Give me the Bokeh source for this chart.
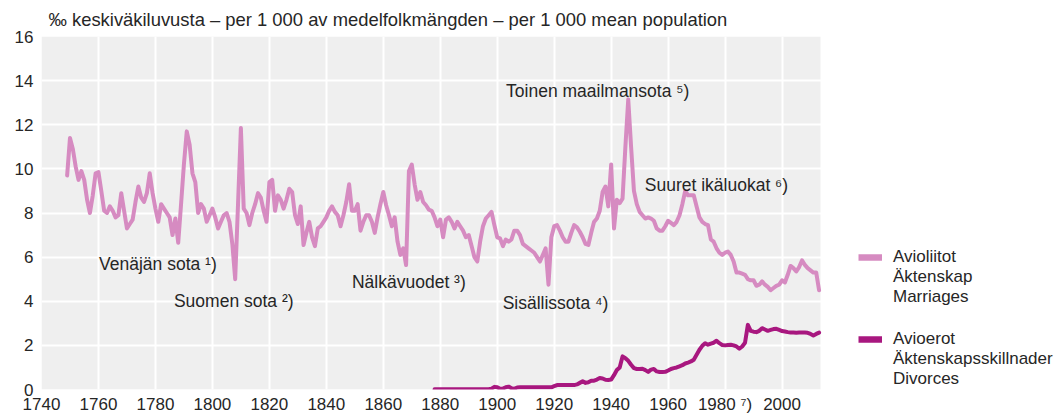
from bokeh.plotting import figure
from bokeh.models import Range1d, Label, Legend, LegendItem, Title, BoxAnnotation
from bokeh.embed import file_html
from bokeh.resources import INLINE

FONT = "Liberation Sans"
TEXT_COLOR = "#262626"
PINK = "#d68bc1"
PURPLE = "#a8177f"
PANEL_GRAY = "#efefef"

# Marriages per 1 000 mean population, one value per year from 1749
marriage_start = 1749
marriages = [
    9.7,
    11.4, 10.9, 10.1, 9.5, 9.9, 9.5, 8.6, 8.0, 8.8, 9.8,      # 1750s
    9.85, 9.0, 8.1, 8.0, 8.3, 8.1, 7.8, 7.9, 8.9, 8.1,        # 1760s
    7.3, 7.5, 7.7, 8.5, 9.2, 8.7, 8.5, 8.9, 9.8, 8.9,         # 1770s
    8.2, 7.6, 8.4, 8.2, 8.0, 7.8, 7.0, 7.75, 6.65, 8.4,       # 1780s
    10.2, 11.7, 11.1, 9.8, 9.4, 8.0, 8.4, 8.2, 7.6, 7.9,      # 1790s
    8.2, 7.8, 7.3, 7.6, 7.9, 8.0, 7.6, 6.6, 5.0, 8.4,         # 1800s
    11.85, 8.2, 8.0, 7.45, 8.0, 8.4, 8.9, 8.7, 8.1, 7.6,      # 1810s
    9.4, 9.5, 8.1, 8.8, 8.6, 8.2, 8.6, 9.1, 8.95, 7.9,        # 1820s
    7.5, 8.3, 6.55, 7.1, 7.6, 6.9, 6.5, 7.3, 7.4, 7.6,        # 1830s
    7.8, 8.1, 8.3, 8.05, 7.9, 7.4, 7.9, 8.5, 9.3, 8.1,        # 1840s
    8.1, 8.4, 7.2, 7.6, 7.9, 7.9, 7.6, 7.1, 7.8, 8.4,         # 1850s
    8.95, 8.35, 7.9, 7.4, 7.8, 6.7, 6.1, 6.4, 5.64, 9.9,      # 1860s
    10.2, 9.3, 8.6, 8.95, 8.5, 8.35, 8.15, 8.1, 7.8, 7.4,     # 1870s
    7.7, 6.9, 7.7, 7.8, 7.6, 7.3, 7.6, 7.4, 7.2, 6.9,         # 1880s
    7.0, 6.5, 6.0, 5.8, 6.7, 7.4, 7.75, 7.9, 8.05, 7.45,      # 1890s
    6.9, 6.85, 6.5, 6.8, 6.7, 6.8, 7.2, 7.2, 7.0, 6.6,        # 1900s
    6.5, 6.4, 6.3, 6.2, 6.0, 5.8, 6.1, 6.4, 4.75, 6.9,        # 1910s
    7.4, 7.45, 7.2, 6.9, 6.7, 6.7, 7.1, 7.45, 7.35, 7.15,     # 1920s
    6.9, 6.6, 6.55, 7.1, 7.6, 7.75, 8.1, 8.95, 9.2, 8.3,      # 1930s
    10.2, 7.3, 8.6, 8.45, 8.65, 11.0, 13.15, 11.0, 9.0, 8.4,  # 1940s
    8.05, 7.9, 7.75, 7.8, 7.75, 7.65, 7.3, 7.2, 7.2, 7.4,     # 1950s
    7.65, 7.55, 7.45, 7.6, 7.9, 8.4, 9.0, 8.8, 8.8, 8.8,      # 1960s
    8.3, 7.8, 7.6, 7.5, 7.45, 6.8, 6.7, 6.4, 6.2, 6.1,        # 1970s
    6.2, 6.25, 6.1, 5.8, 5.3, 5.3, 5.25, 5.2, 5.0, 4.95,      # 1980s
    4.95, 4.7, 4.75, 4.9, 4.75, 4.65, 4.5, 4.6, 4.7, 4.75,    # 1990s
    4.95, 4.85, 5.2, 5.6, 5.5, 5.35, 5.55, 5.85, 5.65, 5.5,   # 2000s
    5.4, 5.3, 5.3, 4.5,                                       # 2010-2013
]

# Divorces per 1 000 mean population, one value per year from 1878
divorce_start = 1878
divorces = [
    0.01, 0.01,
    0.01, 0.01, 0.01, 0.01, 0.01, 0.01, 0.01, 0.01, 0.01, 0.01,   # 1880s
    0.01, 0.01, 0.01, 0.01, 0.01, 0.01, 0.01, 0.01, 0.04, 0.12,   # 1890s
    0.1, 0.03, 0.04, 0.1, 0.13, 0.06, 0.03, 0.09, 0.1, 0.1,       # 1900s
    0.1, 0.1, 0.1, 0.1, 0.1, 0.1, 0.1, 0.1, 0.1, 0.1,             # 1910s
    0.15, 0.2, 0.2, 0.2, 0.2, 0.2, 0.2, 0.2, 0.23, 0.3,           # 1920s
    0.37, 0.3, 0.33, 0.4, 0.4, 0.45, 0.52, 0.5, 0.44, 0.43,       # 1930s
    0.45, 0.65, 0.88, 1.0, 1.5, 1.42, 1.3, 1.12, 0.97, 0.93,      # 1940s
    0.93, 0.94, 0.88, 0.8, 0.9, 0.93, 0.82, 0.79, 0.79, 0.8,      # 1950s
    0.86, 0.93, 0.97, 1.0, 1.05, 1.1, 1.18, 1.22, 1.27, 1.35,     # 1960s
    1.57, 1.8, 1.98, 2.1, 2.03, 2.08, 2.12, 2.21, 2.1, 2.02,      # 1970s
    2.0, 2.02, 2.03, 2.0, 1.95, 1.85, 1.95, 2.12, 2.93, 2.66,     # 1980s
    2.62, 2.6, 2.66, 2.78, 2.72, 2.66, 2.7, 2.74, 2.75, 2.7,      # 1990s
    2.65, 2.63, 2.6, 2.58, 2.58, 2.57, 2.58, 2.58, 2.58, 2.57,    # 2000s
    2.52, 2.45, 2.52, 2.58,                                       # 2010-2013
]

marriage_years = list(range(marriage_start, marriage_start + len(marriages)))
divorce_years = list(range(divorce_start, divorce_start + len(divorces)))

x_ticks = list(range(1740, 2001, 20))
y_ticks = list(range(0, 17, 2))
x_label_overrides = {1980: "1980 \u2077)"}

title_text = "\u2030  keskiväkiluvusta – per 1 000 av medelfolkmängden – per 1 000 mean population"

# Event notes: text, anchor year, anchor value (left/baseline of the text)
notes = [
    ("Venäjän sota \u00b9)", 1760.2, 5.69),
    ("Suomen sota \u00b2)", 1786.5, 4.02),
    ("Nälkävuodet \u00b3)", 1849.0, 4.85),
    ("Sisällissota \u2074)", 1901.9, 3.91),
    ("Toinen maailmansota \u2075)", 1903.1, 13.54),
    ("Suuret ikäluokat \u2076)", 1951.8, 9.26),
]

# Legend entries: first line (next to the key) and the translated lines below it
marriage_key = ("Avioliitot", "Äktenskap\nMarriages")
divorce_key = ("Avioerot", "Äktenskapsskillnader\nDivorces")

# Layout: the gray plotting panel spans 1740..2013.5 over 779 px; the frame
# continues to the right edge so the legend can sit beside the panel.
W, H = 1060, 416
LEFT, TOP, BOTTOM = 41, 36, 25
PANEL_PX = 779
year_start, year_end = 1740, 2013.5
frame_px = W - LEFT
x_end = year_start + (year_end - year_start) * frame_px / PANEL_PX

p = figure(
    width=W, height=H,
    x_range=Range1d(year_start, x_end), y_range=Range1d(0, 16),
    output_backend="svg", toolbar_location=None,
    min_border_left=LEFT, min_border_right=0,
    min_border_top=TOP, min_border_bottom=BOTTOM,
)
p.background_fill_color = "white"
p.border_fill_color = "white"
p.outline_line_color = None

# gray panel behind the grid
p.add_layout(BoxAnnotation(left=year_start, right=year_end, bottom=0, top=16,
                           fill_color=PANEL_GRAY, fill_alpha=1.0,
                           line_color=None, level="image"))

p.add_layout(Title(text=title_text, align="left", offset=7, standoff=13,
                   text_font=FONT, text_font_size="18.4px", text_font_style="normal",
                   text_color=TEXT_COLOR), "above")

for ax in (p.xaxis[0], p.yaxis[0]):
    ax.axis_line_color = None
    ax.major_tick_line_color = None
    ax.minor_tick_line_color = None
    ax.major_tick_out = 0
    ax.major_tick_in = 0
    ax.minor_tick_out = 0
    ax.minor_tick_in = 0
    ax.major_label_text_font = FONT
    ax.major_label_text_font_size = "17px"
    ax.major_label_text_color = TEXT_COLOR
p.xaxis.ticker = x_ticks
p.yaxis.ticker = y_ticks
p.xaxis.major_label_overrides = x_label_overrides
p.xaxis.major_label_standoff = 5
p.yaxis.major_label_standoff = 8

p.xgrid.ticker = x_ticks
p.ygrid.ticker = y_ticks
for g in (p.xgrid[0], p.ygrid[0]):
    g.grid_line_color = "white"
    g.grid_line_width = 2

p.line(marriage_years, marriages, line_color=PINK, line_width=4,
       line_join="round", line_cap="round")
p.line(divorce_years, divorces, line_color=PURPLE, line_width=4,
       line_join="round", line_cap="round")

for text, yr, val in notes:
    p.add_layout(Label(x=yr, y=val, text=text, text_font=FONT, text_font_size="17.5px",
                       text_color=TEXT_COLOR, text_align="left",
                       text_baseline="alphabetic"))

# Legend keys: one-point renderers (nothing drawn in the panel) carrying the key style
key_mar = p.line([marriage_years[-1]], [marriages[-1]], line_color=PINK,
                 line_width=6.5, line_cap="butt")
key_div = p.line([divorce_years[-1]], [divorces[-1]], line_color=PURPLE,
                 line_width=6.5, line_cap="butt")
key_none = p.line([divorce_years[-1]], [divorces[-1]], line_alpha=0)


def make_legend(key_renderer, labels, y_offset):
    return Legend(
        items=[LegendItem(label=labels[0], renderers=[key_renderer]),
               LegendItem(label=labels[1], renderers=[key_none])],
        location=(PANEL_PX + 38, y_offset), orientation="vertical",
        glyph_width=24, glyph_height=8, label_standoff=11, spacing=0,
        padding=0, margin=0, border_line_color=None, background_fill_alpha=0,
        label_text_font=FONT, label_text_font_size="17px",
        label_text_color=TEXT_COLOR, label_text_line_height=1.1,
        label_height=8,
    )


p.add_layout(make_legend(key_mar, marriage_key, 82), "center")
p.add_layout(make_legend(key_div, divorce_key, 0), "center")

open("out.html", "w").write(file_html(p, INLINE))
